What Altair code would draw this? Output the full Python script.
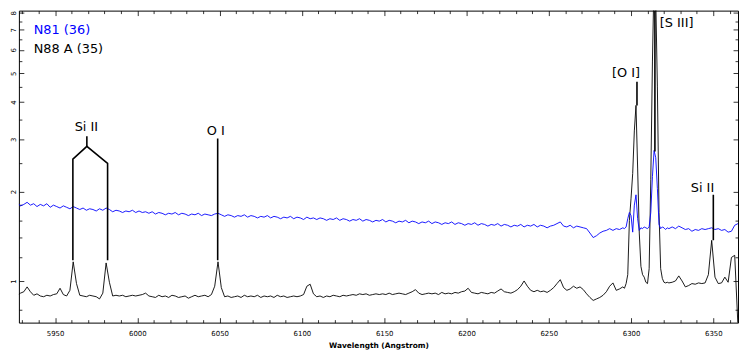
import altair as alt
import pandas as pd

# ---------------- data ----------------
wavelength = [
    5923, 5925, 5927, 5929, 5931, 5933, 5935, 5937, 5939, 5941,
    5943, 5945, 5947, 5949, 5951, 5953, 5955, 5957, 5959, 5961,
    5963, 5965, 5967, 5969, 5971, 5973, 5975, 5977, 5979, 5981,
    5983, 5985, 5987, 5989, 5991, 5993, 5995, 5997, 5999, 6001,
    6003, 6005, 6007, 6009, 6011, 6013, 6015, 6017, 6019, 6021,
    6023, 6025, 6027, 6029, 6031, 6033, 6035, 6037, 6039, 6041,
    6043, 6045, 6047, 6049, 6051, 6053, 6055, 6057, 6059, 6061,
    6063, 6065, 6067, 6069, 6071, 6073, 6075, 6077, 6079, 6081,
    6083, 6085, 6087, 6089, 6091, 6093, 6095, 6097, 6099, 6101,
    6103, 6105, 6107, 6109, 6111, 6113, 6115, 6117, 6119, 6121,
    6123, 6125, 6127, 6129, 6131, 6133, 6135, 6137, 6139, 6141,
    6143, 6145, 6147, 6149, 6151, 6153, 6155, 6157, 6159, 6161,
    6163, 6165, 6167, 6169, 6171, 6173, 6175, 6177, 6179, 6181,
    6183, 6185, 6187, 6189, 6191, 6193, 6195, 6197, 6199, 6201,
    6203, 6205, 6207, 6209, 6211, 6213, 6215, 6217, 6219, 6221,
    6223, 6225, 6227, 6229, 6231, 6233, 6235, 6237, 6239, 6241,
    6243, 6245, 6247, 6249, 6251, 6253, 6255, 6257, 6259, 6261,
    6263, 6265, 6267, 6269, 6271, 6273, 6275, 6277, 6279, 6281,
    6283, 6285, 6287, 6289, 6291, 6293, 6295,
    6296, 6297, 6298, 6299, 6300, 6301, 6302, 6303, 6304, 6305,
    6306, 6307, 6308, 6309, 6310, 6311, 6312, 6313, 6314, 6315,
    6316, 6317, 6318, 6319, 6320, 6321, 6322,
    6323, 6325, 6327, 6329, 6331, 6333, 6335, 6337, 6339, 6341,
    6343, 6345, 6347, 6349, 6351, 6353, 6355, 6357, 6359, 6361,
    6363, 6365,
]

flux_n88a = [
    0.905, 0.90, 0.895, 0.91, 0.92, 0.955, 0.92, 0.895, 0.905, 0.89,
    0.885, 0.895, 0.89, 0.90, 0.905, 0.945, 0.90, 0.89, 0.93, 1.16,
    0.98, 0.895, 0.89, 0.885, 0.895, 0.89, 0.885, 0.87, 0.91, 1.15,
    0.99, 0.89, 0.895, 0.89, 0.895, 0.885, 0.89, 0.895, 0.89, 0.895,
    0.90, 0.91, 0.89, 0.885, 0.88, 0.895, 0.885, 0.89, 0.88, 0.895,
    0.89, 0.88, 0.885, 0.89, 0.875, 0.885, 0.895, 0.885, 0.89, 0.895,
    0.885, 0.90, 0.96, 1.16, 0.95, 0.885, 0.89, 0.88, 0.885, 0.89,
    0.88, 0.895, 0.885, 0.89, 0.885, 0.895, 0.88, 0.89, 0.885, 0.89,
    0.88, 0.895, 0.885, 0.89, 0.88, 0.885, 0.89, 0.885, 0.89, 0.90,
    0.96, 0.975, 0.905, 0.885, 0.89, 0.88, 0.89, 0.885, 0.895, 0.89,
    0.885, 0.895, 0.89, 0.895, 0.90, 0.895, 0.905, 0.90, 0.905, 0.895,
    0.90, 0.905, 0.90, 0.905, 0.90, 0.91, 0.90, 0.905, 0.91, 0.905,
    0.90, 0.91, 0.92, 0.935, 0.91, 0.90, 0.905, 0.91, 0.905, 0.91,
    0.90, 0.915, 0.905, 0.91, 0.905, 0.915, 0.91, 0.92, 0.925, 0.945,
    0.915, 0.91, 0.905, 0.915, 0.91, 0.905, 0.915, 0.91, 0.925, 0.94,
    0.92, 0.915, 0.91, 0.92, 0.935, 0.96, 1.0, 0.96, 0.93, 0.92,
    0.93, 0.92, 0.925, 0.915, 0.93, 0.95, 0.98, 1.01, 0.95, 0.93,
    0.94, 0.96, 0.945, 0.955, 0.935, 0.905, 0.88, 0.86, 0.87, 0.88,
    0.895, 0.92, 0.96, 0.985, 0.93, 0.94, 0.955,
    0.945, 0.98, 1.05, 1.6, 1.9, 2.3, 3.2, 3.9, 2.4, 1.45,
    1.12, 1.05, 1.03, 0.99, 0.98, 1.1, 2.2, 5.5, 10.5, 9.0,
    4.5, 1.7, 1.1, 1.02, 0.99, 0.985, 0.99,
    0.985, 0.99, 1.0, 1.04, 1.0, 0.955, 0.965, 0.98, 0.975, 0.985,
    0.98, 0.985, 1.05, 1.37, 1.03, 0.98, 0.985, 1.03, 0.99, 1.2,
    1.22, 0.7,
]

flux_n81 = [
    1.82, 1.80, 1.83, 1.79, 1.81, 1.84, 1.80, 1.82, 1.78, 1.81,
    1.79, 1.82, 1.77, 1.80, 1.78, 1.76, 1.79, 1.77, 1.75, 1.78,
    1.76, 1.74, 1.76, 1.73, 1.75, 1.74, 1.72, 1.75, 1.73, 1.76,
    1.74, 1.71, 1.73, 1.72, 1.70, 1.72, 1.71, 1.73, 1.70, 1.72,
    1.70, 1.71, 1.69, 1.71, 1.68, 1.70, 1.69, 1.67, 1.69, 1.68,
    1.70, 1.67, 1.69, 1.68, 1.66, 1.68, 1.67, 1.69, 1.66, 1.68,
    1.67, 1.66, 1.68, 1.69, 1.67, 1.65, 1.67, 1.66, 1.64, 1.66,
    1.65, 1.67, 1.64, 1.66, 1.65, 1.63, 1.65, 1.64, 1.66, 1.63,
    1.65, 1.64, 1.62, 1.64, 1.63, 1.65, 1.62, 1.64, 1.63, 1.61,
    1.64, 1.62, 1.63, 1.61, 1.63, 1.62, 1.60, 1.62, 1.61, 1.63,
    1.60, 1.62, 1.61, 1.59, 1.61, 1.60, 1.62, 1.59, 1.61, 1.60,
    1.58, 1.60, 1.59, 1.61, 1.58, 1.60, 1.59, 1.57, 1.59, 1.58,
    1.60, 1.57, 1.59, 1.58, 1.56, 1.58, 1.57, 1.59, 1.56, 1.58,
    1.57, 1.55, 1.57, 1.56, 1.58, 1.55, 1.57, 1.56, 1.54, 1.56,
    1.55, 1.57, 1.54, 1.56, 1.55, 1.53, 1.55, 1.54, 1.56, 1.53,
    1.55, 1.54, 1.52, 1.54, 1.53, 1.55, 1.52, 1.54, 1.53, 1.55,
    1.52, 1.54, 1.53, 1.51, 1.53, 1.54, 1.56, 1.58, 1.53, 1.52,
    1.54, 1.51, 1.53, 1.52, 1.51, 1.50, 1.45, 1.40, 1.42, 1.45,
    1.47, 1.48, 1.50, 1.48, 1.50, 1.49, 1.51,
    1.50, 1.52, 1.62, 1.70, 1.66, 1.46, 1.80, 1.95, 1.62, 1.48,
    1.51, 1.50, 1.52, 1.51, 1.50, 1.52, 1.70, 2.25, 2.75, 2.60,
    2.05, 1.55, 1.50, 1.52, 1.51, 1.49, 1.51,
    1.50, 1.52, 1.50, 1.53, 1.51, 1.49, 1.50, 1.47, 1.49, 1.48,
    1.50, 1.49, 1.50, 1.51, 1.49, 1.50, 1.48, 1.49, 1.46, 1.47,
    1.54, 1.56,
]

assert len(wavelength) == len(flux_n88a) == len(flux_n81)

# line identifications
line_labels = ["Si II", "O I", "[O I]", "[S III]", "Si II"]
label_wl = [5969.0, 6047.6, 6297.0, 6327.7, 6343.4]
label_flux = [3.21, 3.11, 4.86, 7.14, 1.995]

marker_wl = [6048.8, 6303.6, 6314.5, 6350.0, 5969.3]
marker_lo = [1.175, 3.9, 2.73, 1.37, 2.84]
marker_hi = [3.02, 4.68, 8.13, 1.95, 3.07]

bracket_wl = [5960.8, 5960.8, 5969.3, 5981.9, 5981.9]
bracket_flux = [1.175, 2.57, 2.84, 2.49, 1.175]

legend_labels = ["N81 (36)", "N88 A (35)"]
legend_colors = ["#0000ff", "#000000"]

x_ticks = list(range(5930, 6361, 10))
y_ticks = [0.8, 1, 1.2, 1.4, 1.6, 1.8, 2, 2.5, 3, 3.5, 4, 4.5, 5, 5.5, 6, 6.5, 7, 7.5, 8]

# ---------------- chart ----------------
FONT = "DejaVu Sans"
x_scale = alt.Scale(domain=[5928, 6365], nice=False, zero=False)
y_scale = alt.Scale(type="log", domain=[0.724, 8.13], nice=False)

x_tick_size = {"condition": {"test": "datum.value % 50 === 0", "value": -5}, "value": -3}
y_tick_size = {"condition": {"test": "datum.value % 1 === 0", "value": -5}, "value": -3}

x_axis_bottom = alt.Axis(
    orient="bottom", values=x_ticks,
    labelExpr="datum.value % 50 === 0 ? format(datum.value, 'd') : ''",
    tickSize=x_tick_size, tickColor="black", tickWidth=0.8,
    domain=False, grid=False, labelOverlap=False,
    labelFont=FONT, labelFontSize=7, labelColor="black", labelPadding=12,
    title="Wavelength (Angstrom)", titleFont=FONT, titleFontSize=7.5,
    titleFontWeight="bold", titleColor="black", titlePadding=3,
)
y_axis_left = alt.Axis(
    orient="left", values=y_ticks,
    labelExpr="datum.value % 1 === 0 ? format(datum.value, 'd') : ''",
    tickSize=y_tick_size, tickColor="black", tickWidth=0.8,
    domain=False, grid=False, labelOverlap=False,
    labelAngle=270, labelAlign="center", labelBaseline="bottom",
    labelFont=FONT, labelFontSize=7, labelColor="black", labelPadding=7,
    title=None,
)
x_axis_top = alt.Axis(
    orient="top", values=x_ticks, labels=False,
    tickSize=x_tick_size, tickColor="black", tickWidth=0.8,
    domain=False, grid=False, title=None,
)
y_axis_right = alt.Axis(
    orient="right", values=y_ticks, labels=False,
    tickSize=y_tick_size, tickColor="black", tickWidth=0.8,
    domain=False, grid=False, title=None,
)

df_spec = pd.DataFrame({"wl": wavelength, "n88a": flux_n88a, "n81": flux_n81})

black_line = alt.Chart(df_spec).mark_line(
    color="#000000", strokeWidth=0.9, clip=True, interpolate="linear"
).encode(
    x=alt.X("wl:Q", scale=x_scale, axis=x_axis_bottom),
    y=alt.Y("n88a:Q", scale=y_scale, axis=y_axis_left),
)

blue_line = alt.Chart(df_spec).mark_line(
    color="#0000ff", strokeWidth=0.9, clip=True
).encode(
    x=alt.X("wl:Q", scale=x_scale, axis=x_axis_top),
    y=alt.Y("n81:Q", scale=y_scale, axis=y_axis_right),
)

df_markers = pd.DataFrame({"wl": marker_wl, "lo": marker_lo, "hi": marker_hi})
markers = alt.Chart(df_markers).mark_rule(color="black", strokeWidth=1.6, clip=True).encode(
    x=alt.X("wl:Q", scale=x_scale, axis=None),
    y=alt.Y("lo:Q", scale=y_scale, axis=None),
    y2="hi:Q",
)

df_bracket = pd.DataFrame({"wl": bracket_wl, "flux": bracket_flux,
                           "order": list(range(len(bracket_wl)))})
bracket = alt.Chart(df_bracket).mark_line(color="black", strokeWidth=1.6).encode(
    x=alt.X("wl:Q", scale=x_scale, axis=None),
    y=alt.Y("flux:Q", scale=y_scale, axis=None),
    order="order:O",
)

df_labels = pd.DataFrame({"wl": label_wl, "flux": label_flux, "text": line_labels})
labels = alt.Chart(df_labels).mark_text(
    font=FONT, fontSize=13, align="center", baseline="alphabetic", color="black"
).encode(
    x=alt.X("wl:Q", scale=x_scale, axis=None),
    y=alt.Y("flux:Q", scale=y_scale, axis=None),
    text="text:N",
)

legend_layers = []
for i, (lab, col) in enumerate(zip(legend_labels, legend_colors)):
    legend_layers.append(
        alt.Chart(pd.DataFrame({"t": [lab]})).mark_text(
            font=FONT, fontSize=13, align="left", baseline="alphabetic", color=col
        ).encode(x=alt.value(15), y=alt.value(24 + 19 * i), text="t:N")
    )

chart = alt.layer(
    black_line, blue_line, markers, bracket, labels, *legend_layers
).resolve_axis(
    x="independent", y="independent"
).properties(
    width=726, height=315,
    padding={"left": 0, "top": 0, "right": 0, "bottom": 0},
    background="white",
).configure_view(
    stroke="black", strokeWidth=1
)

chart.save("out.html", embed_options={"renderer": "svg", "actions": False})
